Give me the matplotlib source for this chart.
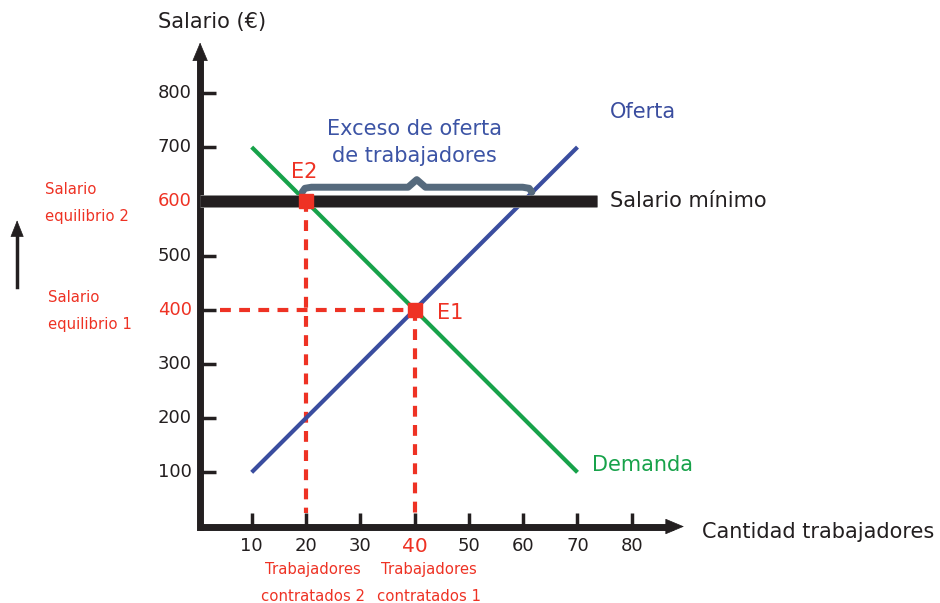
import matplotlib
matplotlib.use("Agg")
import matplotlib.pyplot as plt
import matplotlib.patheffects as pe

plt.rcParams['font.family'] = ['DejaVu Sans']

# ---- data ----
supply_x = [10, 70]
supply_y = [100, 700]
demand_x = [10, 70]
demand_y = [700, 100]
min_wage = 600
eq1 = (40, 400)
eq2 = (20, 600)
x_ticks = [10, 20, 30, 40, 50, 60, 70, 80]
y_ticks = [100, 200, 300, 400, 500, 600, 700, 800]
red_x_ticks = [40]
red_y_ticks = [400, 600]

DARK = "#231f20"
RED = "#ee3224"
BLUE = "#3a4d9f"
GREEN = "#17a24a"
BRACE = "#566a7d"

BIG = 15
SMALL = 10.7

fig = plt.figure(figsize=(9.4, 6.03), dpi=100)
ax = fig.add_axes([0, 0, 1, 1])
ax.set_xlim(-36.35, 136.76)
ax.set_ylim(-141.1, 971.4)
ax.axis("off")


def arrow(x0, y0, x1, y1, hx, hy, lw, hl=0.62, hw=0.26):
    ax.plot([x0, hx], [y0, hy], color=DARK, lw=lw, solid_capstyle="projecting")
    ax.annotate("", xy=(x1, y1), xytext=(hx, hy),
                arrowprops=dict(arrowstyle=f"-|>,head_length={hl},head_width={hw}",
                                lw=0.5, color=DARK, shrinkA=0, shrinkB=0,
                                mutation_scale=20))


# axes with arrows
arrow(1.0, 0, 89.6, 0, 87.0, 0, 5)
arrow(0.5, 0, 0.5, 893, 0.5, 866, 5)

# ticks
for xt in x_ticks:
    ax.plot([xt, xt], [0, 25], color=DARK, lw=2.5, solid_capstyle="butt")
    red = xt in red_x_ticks
    ax.text(xt, -36, str(xt), ha="center", va="center",
            fontsize=14.5 if red else 13, color=RED if red else DARK)
for yt in y_ticks:
    ax.plot([0.5, 3.5], [yt, yt], color=DARK, lw=2.5, solid_capstyle="butt")
    red = yt in red_y_ticks
    ax.text(-1.0, yt, str(yt), ha="right", va="center",
            fontsize=13, color=RED if red else DARK)

# dashed guides
dash = dict(color=RED, lw=3, dashes=(2.6, 2.0), solid_capstyle="butt")
ax.plot([eq2[0], eq2[0]], [eq2[1], 25], **dash)
ax.plot([eq1[0], eq1[0]], [eq1[1], 25], **dash)
ax.plot([4.2, eq1[0]], [eq1[1], eq1[1]], **dash)

# curves
ax.plot(supply_x, supply_y, color=BLUE, lw=3, solid_capstyle="butt")
ax.plot(demand_x, demand_y, color=GREEN, lw=3, solid_capstyle="butt")

# minimum wage bar
ax.plot([0.5, 73.6], [min_wage, min_wage], color=DARK, lw=8,
        solid_capstyle="butt",
        path_effects=[pe.Stroke(linewidth=9.2, foreground="#8a8a8a"), pe.Normal()])

# brace
bx = [19.3, 19.8, 21.0, 38.8, 40.4, 42.0, 59.9, 61.1, 61.6]
by = [617, 624, 626, 626, 640, 626, 626, 624, 617]
ax.plot(bx, by, color=BRACE, lw=5, solid_joinstyle="round", solid_capstyle="round")

# equilibrium points
ax.plot([eq2[0], eq1[0]], [eq2[1], eq1[1]], linestyle="none", marker="s",
        markersize=10, color=RED)

# texts
ax.text(2.7, 931, "Salario (€)", ha="center", va="center", fontsize=BIG, color=DARK)
ax.text(92.9, -10, "Cantidad trabajadores", ha="left", va="center", fontsize=BIG, color=DARK)
ax.text(76, min_wage, "Salario mínimo", ha="left", va="center", fontsize=BIG, color=DARK)
ax.text(76, 765, "Oferta", ha="left", va="center", fontsize=BIG, color=BLUE)
ax.text(72.7, 113, "Demanda", ha="left", va="center", fontsize=BIG, color=GREEN)
ax.text(39.9, 709, "Exceso de oferta\nde trabajadores", ha="center", va="center",
        fontsize=BIG, color="#3c54a5", linespacing=1.45)
ax.text(17.2, 654, "E2", ha="left", va="center", fontsize=BIG, color=RED)
ax.text(44.1, 394, "E1", ha="left", va="center", fontsize=BIG, color=RED)

ax.text(-28.1, 597, "Salario\nequilibrio 2", ha="left", va="center",
        fontsize=SMALL, color=RED, linespacing=1.94)
ax.text(-27.5, 397.6, "Salario\nequilibrio 1", ha="left", va="center",
        fontsize=SMALL, color=RED, linespacing=1.94)
ax.text(21.3, -104, "Trabajadores\ncontratados 2", ha="center", va="center",
        fontsize=SMALL, color=RED, linespacing=1.94)
ax.text(42.7, -104, "Trabajadores\ncontratados 1", ha="center", va="center",
        fontsize=SMALL, color=RED, linespacing=1.94)

# side arrow (salary increase)
arrow(-33.2, 442, -33.2, 565, -33.2, 540, 2.5, hl=0.55, hw=0.22)

fig.savefig("out.png", dpi=100)
